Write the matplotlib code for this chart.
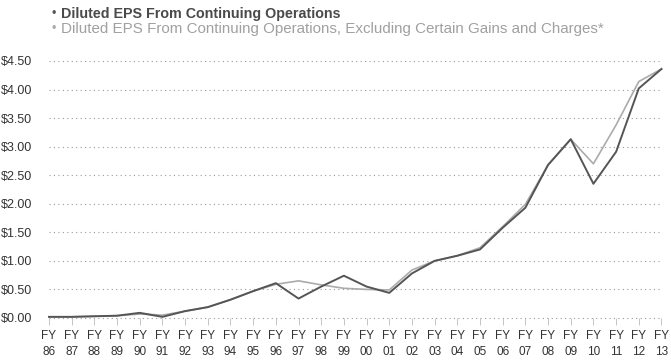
import matplotlib.pyplot as plt
import numpy as np

plt.rcParams['font.family'] = ['Liberation Sans', 'DejaVu Sans']

# ── Data ───────────────────────────────────────────────────────────────────────
years = ["86", "87", "88", "89", "90", "91", "92", "93", "94", "95", "96", "97",
         "98", "99", "00", "01", "02", "03", "04", "05", "06", "07", "08", "09",
         "10", "11", "12", "13"]

eps_cont = [0.02, 0.02, 0.03, 0.04, 0.09, 0.02, 0.12, 0.19, 0.32, 0.47, 0.61, 0.34,
            0.55, 0.74, 0.55, 0.44, 0.78, 1.00, 1.09, 1.20, 1.58, 1.93, 2.68, 3.13,
            2.35, 2.91, 4.02, 4.36]

eps_excl = [0.02, 0.02, 0.03, 0.04, 0.07, 0.05, 0.12, 0.19, 0.32, 0.47, 0.59, 0.65,
            0.58, 0.52, 0.50, 0.49, 0.84, 1.00, 1.09, 1.23, 1.60, 1.99, 2.68, 3.13,
            2.70, 3.38, 4.14, 4.36]

y_ticks = [0.0, 0.5, 1.0, 1.5, 2.0, 2.5, 3.0, 3.5, 4.0, 4.5]

DARK  = "#555555"
LIGHT = "#ababab"
GRID  = "#9a9a9a"

# ── Figure ─────────────────────────────────────────────────────────────────────
fig = plt.figure(figsize=(6.71, 3.60), dpi=100)
ax = fig.add_axes([0.0730, 0.1167, 0.9128, 0.7139])

x = np.arange(len(years))

# dotted horizontal guides at every dollar step
for yv in y_ticks:
    ax.axhline(yv, color=GRID, linewidth=0.8, linestyle=(0, (1, 3)),
               zorder=1, clip_on=False)

ax.plot(x, eps_excl, color=LIGHT, linewidth=1.2, zorder=2, clip_on=False)
ax.plot(x, eps_cont, color=DARK, linewidth=1.4, zorder=3, clip_on=False)

ax.set_xlim(0, len(years) - 1)
ax.set_ylim(0, 4.5)

ax.set_xticks(x)
ax.set_xticklabels([f"FY\n{y}" for y in years], fontsize=8.5, color="#333333",
                   linespacing=1.4)
ax.set_yticks(y_ticks)
ax.set_yticklabels([f"${v:.2f}" for v in y_ticks], fontsize=9, color="#333333")

ax.tick_params(axis='x', length=5, width=0.6, color="#bbbbbb", pad=4)
ax.tick_params(axis='y', length=0, pad=12)
for s in ax.spines.values():
    s.set_visible(False)

# Legend entries at the top
fig.text(51 / 671, 1 - 14 / 360, "\u2022", color=DARK, fontsize=9, va='center')
fig.text(61 / 671, 1 - 14 / 360, "Diluted EPS From Continuing Operations",
         color="#4a4a4a", fontsize=10.3, fontweight='bold', va='center')
fig.text(51 / 671, 1 - 29 / 360, "\u2022", color=LIGHT, fontsize=9, va='center')
fig.text(61 / 671, 1 - 29 / 360,
         "Diluted EPS From Continuing Operations, Excluding Certain Gains and Charges*",
         color="#a0a0a0", fontsize=10.9, va='center')

fig.savefig("out.png", dpi=100)
